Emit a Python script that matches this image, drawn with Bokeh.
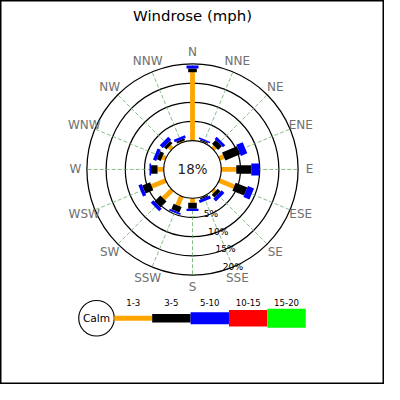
import numpy as np
from bokeh.plotting import figure
from bokeh.models import Range1d
from bokeh.core.properties import value
from bokeh.embed import file_html
from bokeh.resources import INLINE

# ---- data ----
directions = ["N", "NNE", "NE", "ENE", "E", "ESE", "SE", "SSE",
              "S", "SSW", "SW", "WSW", "W", "WNW", "NW", "NNW"]
speed_bins = ["1-3", "3-5", "5-10", "10-15", "15-20"]
pct_1_3 = [17.8, 0.2, 0.8, 1.3, 3.9, 4.2, 0.7, 0.2, 1.2, 2.6, 3.2, 4.0, 1.6, 1.0, 1.0, 0.3]
pct_3_5 = [1.0, 0.3, 1.4, 4.2, 3.9, 3.3, 1.0, 0.3, 1.5, 1.6, 2.2, 2.2, 1.7, 1.1, 0.9, 0.5]
pct_5_10 = [0.8, 0.4, 0.8, 1.8, 2.1, 1.7, 1.0, 0.8, 0.6, 0.5, 0.9, 0.9, 0.4, 0.9, 1.1, 0.7]
pct_10_15 = [0.0] * 16
pct_15_20 = [0.0] * 16
calm_pct = 18
ring_pcts = [5, 10, 15, 20]
ring_labels = ["5%", "10%", "15%", "20%"]

# ---- styles / layout ----
S = 384 / 400.0
FONT = "DejaVu Sans"
bin_colors = ["#ffa500", "#000000", "#0000ff", "#ff0000", "#00ff00"]
bin_widths = [5, 9, 12.5, 17, 20]
CX, CY = 200.0, 176.0
R0, K = 30.0, 4.0          # calm radius, px per percent
LABEL_R = 122.0


def rad(p):
    return R0 + K * np.asarray(p, dtype=float)


def px(v):
    return f"{v * S:.1f}px"


p = figure(width=384, height=384, output_backend="svg", toolbar_location=None,
           x_range=Range1d(0, 400), y_range=Range1d(400, 0), min_border=0)
p.axis.visible = False
p.grid.visible = False
p.outline_line_color = "black"
p.outline_line_width = 2
p.background_fill_color = "white"
p.border_fill_color = "white"

ang = np.deg2rad(np.arange(16) * 22.5)
sx, sy = np.sin(ang), -np.cos(ang)

# rings
p.circle(x=[CX] * 4, y=[CY] * 4, radius=list(rad(ring_pcts)), fill_color=None,
         line_color="black", line_width=1.3 * S)

# spokes
r_out = rad(ring_pcts[-1])
p.segment(x0=CX + R0 * sx, y0=CY + R0 * sy, x1=CX + r_out * sx, y1=CY + r_out * sy,
          line_color="#66aa66", line_dash="4 2", line_width=0.9 * S, line_alpha=0.9)

# bars
series = [pct_1_3, pct_3_5, pct_5_10, pct_10_15, pct_15_20]
cum = np.zeros(16)
for vals, col, w in zip(series, bin_colors, bin_widths):
    v = np.asarray(vals, dtype=float)
    r0 = rad(cum)
    r1 = rad(cum + v)
    m = v > 0
    if m.any():
        p.segment(x0=(CX + r0 * sx)[m], y0=(CY + r0 * sy)[m],
                  x1=(CX + r1 * sx)[m], y1=(CY + r1 * sy)[m],
                  line_color=col, line_width=w * S, line_cap="butt")
    cum = cum + v

# calm circle
p.circle(x=[CX], y=[CY], radius=R0, fill_color="white", line_color="black", line_width=1.2 * S)
p.text(x=[CX], y=[CY], text=[f"{calm_pct}%"], text_align="center", text_baseline="middle",
       text_font=value(FONT), text_font_size=px(14), text_color="#222222")

# direction labels
p.text(x=CX + LABEL_R * sx, y=CY + LABEL_R * sy, text=directions, text_align="center",
       text_baseline="middle", text_font=value(FONT), text_font_size=px(12.5),
       text_color="#707070")

# ring labels along SSE
a = np.deg2rad(157.5)
rr = rad(ring_pcts)
p.text(x=CX + rr * np.sin(a), y=CY - rr * np.cos(a), text=ring_labels, text_align="center",
       text_baseline="middle", text_font=value(FONT), text_font_size=px(9.5), text_color="black")

# title
p.text(x=[200], y=[16], text=["Windrose (mph)"], text_align="center", text_baseline="middle",
       text_font=value(FONT), text_font_size=px(15.5), text_color="black")

# legend
LY = 331.0
p.circle(x=[100], y=[LY], radius=18.5, fill_color="white", line_color="black", line_width=1.2 * S)
p.text(x=[100], y=[LY], text=["Calm"], text_align="center", text_baseline="middle",
       text_font=value(FONT), text_font_size=px(11), text_color="black")
seg_x0 = [118.5, 158, 198, 238, 278]
seg_x1 = [158, 198, 238, 278, 318]
for x0, x1, col, w in zip(seg_x0, seg_x1, bin_colors, bin_widths):
    p.segment(x0=[x0], y0=[LY], x1=[x1], y1=[LY], line_color=col, line_width=w * S, line_cap="butt")
p.text(x=[(a0 + a1) / 2 for a0, a1 in zip(seg_x0, seg_x1)], y=[315] * 5, text=speed_bins,
       text_align="center", text_baseline="middle", text_font=value(FONT),
       text_font_size=px(9), text_color="black")

open("out.html", "w").write(file_html(p, INLINE))
